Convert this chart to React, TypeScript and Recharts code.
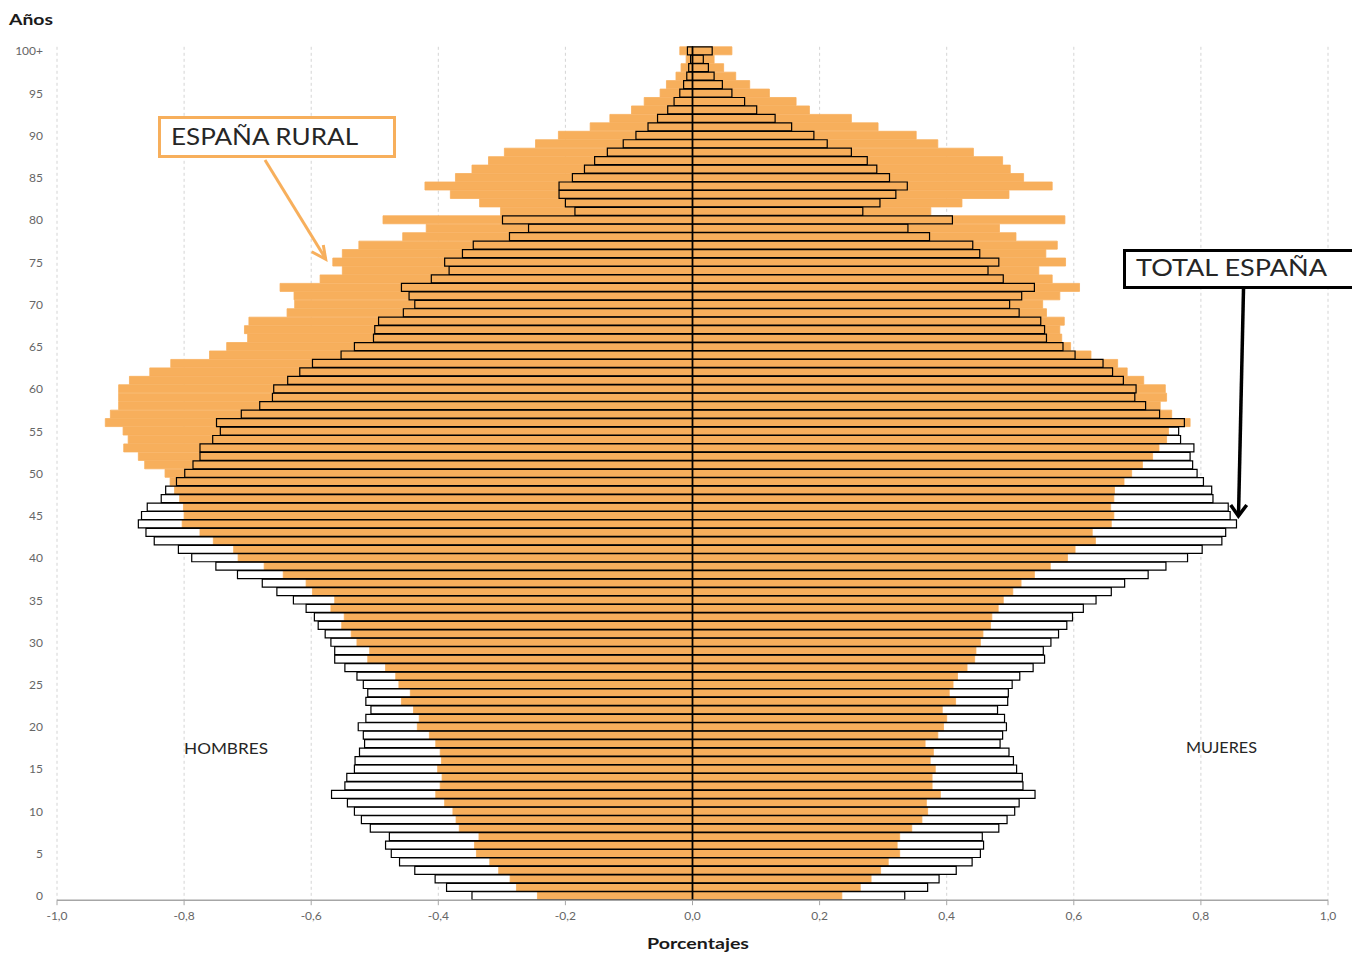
import React from 'react';
import { BarChart, Bar, XAxis, YAxis, CartesianGrid, ReferenceLine } from 'recharts';

// Age categories, 0 .. 100+
const ages = [
  '0','1','2','3','4','5','6','7','8','9',
  '10','11','12','13','14','15','16','17','18','19',
  '20','21','22','23','24','25','26','27','28','29',
  '30','31','32','33','34','35','36','37','38','39',
  '40','41','42','43','44','45','46','47','48','49',
  '50','51','52','53','54','55','56','57','58','59',
  '60','61','62','63','64','65','66','67','68','69',
  '70','71','72','73','74','75','76','77','78','79',
  '80','81','82','83','84','85','86','87','88','89',
  '90','91','92','93','94','95','96','97','98','99','100+',
];

// TOTAL ESPAÑA - hombres (% , negative = left side)
const totalMen = [
  -0.347,-0.387,-0.405,-0.437,-0.461,-0.474,-0.483,-0.477,-0.507,-0.521,
  -0.532,-0.543,-0.568,-0.547,-0.544,-0.532,-0.531,-0.524,-0.516,-0.518,
  -0.526,-0.514,-0.506,-0.514,-0.511,-0.518,-0.528,-0.547,-0.563,-0.563,
  -0.569,-0.578,-0.589,-0.595,-0.608,-0.628,-0.654,-0.677,-0.716,-0.750,
  -0.788,-0.809,-0.847,-0.860,-0.872,-0.867,-0.858,-0.836,-0.829,-0.812,
  -0.799,-0.786,-0.775,-0.775,-0.755,-0.743,-0.749,-0.710,-0.681,-0.661,
  -0.659,-0.637,-0.618,-0.598,-0.553,-0.532,-0.502,-0.500,-0.494,-0.455,
  -0.437,-0.446,-0.458,-0.411,-0.383,-0.390,-0.362,-0.345,-0.288,-0.258,
  -0.299,-0.185,-0.200,-0.210,-0.210,-0.189,-0.170,-0.154,-0.134,-0.109,
  -0.089,-0.070,-0.055,-0.039,-0.029,-0.020,-0.014,-0.009,-0.006,-0.003,-0.008,
];

// ESPAÑA RURAL - hombres
const ruralMen = [
  -0.244,-0.277,-0.287,-0.305,-0.319,-0.340,-0.343,-0.336,-0.367,-0.372,
  -0.377,-0.390,-0.404,-0.397,-0.394,-0.401,-0.395,-0.397,-0.404,-0.414,
  -0.433,-0.430,-0.439,-0.458,-0.444,-0.462,-0.467,-0.483,-0.511,-0.508,
  -0.528,-0.537,-0.552,-0.548,-0.569,-0.563,-0.598,-0.608,-0.644,-0.674,
  -0.715,-0.722,-0.754,-0.775,-0.803,-0.800,-0.801,-0.807,-0.815,-0.822,
  -0.830,-0.862,-0.872,-0.895,-0.888,-0.896,-0.924,-0.916,-0.903,-0.903,
  -0.903,-0.886,-0.854,-0.821,-0.760,-0.733,-0.700,-0.705,-0.698,-0.638,
  -0.626,-0.627,-0.649,-0.586,-0.551,-0.566,-0.551,-0.525,-0.456,-0.419,
  -0.487,-0.302,-0.335,-0.381,-0.421,-0.373,-0.347,-0.321,-0.296,-0.247,
  -0.211,-0.161,-0.130,-0.096,-0.076,-0.051,-0.041,-0.026,-0.018,-0.010,-0.020,
];

// TOTAL ESPAÑA - mujeres
const totalWomen = [
  0.334,0.370,0.388,0.415,0.440,0.453,0.458,0.456,0.482,0.495,
  0.507,0.514,0.539,0.520,0.519,0.510,0.505,0.498,0.484,0.488,
  0.494,0.491,0.480,0.496,0.497,0.503,0.515,0.536,0.554,0.552,
  0.564,0.576,0.589,0.598,0.615,0.635,0.659,0.680,0.717,0.745,
  0.779,0.802,0.833,0.839,0.856,0.846,0.843,0.819,0.817,0.804,
  0.794,0.787,0.783,0.789,0.768,0.765,0.774,0.735,0.713,0.696,
  0.698,0.678,0.661,0.646,0.602,0.583,0.557,0.554,0.548,0.514,
  0.499,0.518,0.538,0.489,0.465,0.482,0.452,0.441,0.373,0.339,
  0.409,0.268,0.295,0.320,0.338,0.310,0.290,0.275,0.250,0.212,
  0.191,0.156,0.130,0.101,0.082,0.062,0.047,0.034,0.025,0.017,0.031,
];

// ESPAÑA RURAL - mujeres
const ruralWomen = [
  0.235,0.264,0.281,0.296,0.308,0.326,0.322,0.326,0.345,0.361,
  0.370,0.368,0.390,0.377,0.377,0.382,0.374,0.379,0.366,0.386,
  0.395,0.400,0.393,0.414,0.404,0.410,0.417,0.432,0.444,0.446,
  0.453,0.457,0.469,0.471,0.481,0.489,0.504,0.517,0.538,0.563,
  0.590,0.602,0.634,0.629,0.659,0.663,0.658,0.663,0.664,0.679,
  0.691,0.708,0.724,0.734,0.746,0.749,0.783,0.754,0.736,0.746,
  0.744,0.710,0.684,0.669,0.627,0.595,0.581,0.578,0.585,0.557,
  0.551,0.578,0.609,0.566,0.545,0.587,0.556,0.574,0.509,0.483,
  0.586,0.375,0.424,0.498,0.566,0.521,0.500,0.488,0.442,0.386,
  0.352,0.292,0.250,0.184,0.163,0.121,0.090,0.068,0.049,0.034,0.062,
];

const xTicks = [-1, -0.8, -0.6, -0.4, -0.2, 0, 0.2, 0.4, 0.6, 0.8, 1];

const ORANGE = '#F7AF5C';
const FONT = 'Lato, "Open Sans", sans-serif';

const data = ages
  .map((age, i) => ({
    age,
    totalM: totalMen[i],
    totalF: totalWomen[i],
    ruralM: ruralMen[i],
    ruralF: ruralWomen[i],
  }))
  .reverse();

const fmt = (v: number) => v.toFixed(1).replace('.', ',');

export default function App() {
  return (
    <div style={{ position: 'absolute', left: 0, top: 0, width: 1352, height: 954, background: '#fff' }}>
      <BarChart
        width={1352}
        height={954}
        data={data}
        layout="vertical"
        stackOffset="sign"
        barCategoryGap={0}
        barGap={0}
        margin={{ top: 46.8, right: 24, bottom: 0, left: 0 }}
      >
        <CartesianGrid yAxisId="a" horizontal={false} vertical stroke="#d4d4d4" strokeDasharray="3 3" />
        <XAxis
          type="number"
          domain={[-1, 1]}
          ticks={xTicks}
          tickFormatter={fmt}
          height={53.8}
          axisLine={{ stroke: '#a6a6a6', strokeWidth: 1.5 }}
          tickLine={{ stroke: '#a6a6a6' }}
          tickSize={5}
          tickMargin={6}
          tick={{ fill: '#666', fontSize: 12, fontFamily: FONT }}
          allowDataOverflow
        />
        <YAxis
          yAxisId="a"
          type="category"
          dataKey="age"
          width={57}
          axisLine={false}
          tickLine={false}
          tickSize={0}
          tickMargin={14}
          interval={4}
          tick={{ fill: '#666', fontSize: 12, fontFamily: FONT }}
        />
        <YAxis yAxisId="b" type="category" dataKey="age" hide />
        <YAxis yAxisId="c" type="category" dataKey="age" hide />

        <Bar yAxisId="a" dataKey="totalM" stackId="w" fill="#fff" barSize={8} isAnimationActive={false} />
        <Bar yAxisId="a" dataKey="totalF" stackId="w" fill="#fff" barSize={8} isAnimationActive={false} />

        <Bar yAxisId="b" dataKey="ruralM" stackId="r" fill={ORANGE} stroke={ORANGE} strokeWidth={0.8} isAnimationActive={false} />
        <Bar yAxisId="b" dataKey="ruralF" stackId="r" fill={ORANGE} stroke={ORANGE} strokeWidth={0.8} isAnimationActive={false} />

        <Bar yAxisId="c" dataKey="totalM" stackId="o" fill="none" stroke="#000" strokeWidth={1.2} barSize={8} isAnimationActive={false} />
        <Bar yAxisId="c" dataKey="totalF" stackId="o" fill="none" stroke="#000" strokeWidth={1.2} barSize={8} isAnimationActive={false} />

        <ReferenceLine yAxisId="a" x={0} stroke="#000" strokeWidth={1.5} />
      </BarChart>

      <svg
        width={1352}
        height={954}
        style={{ position: 'absolute', left: 0, top: 0, pointerEvents: 'none' }}
      >
        <text x={9} y={25} fontFamily={FONT} fontSize={16} fontWeight="bold" fill="#1a1a1a" textLength={44} lengthAdjust="spacingAndGlyphs">Años</text>
        <text x={647} y={949} fontFamily={FONT} fontSize={16} fontWeight="bold" fill="#1a1a1a" textLength={102} lengthAdjust="spacingAndGlyphs">Porcentajes</text>
        <text x={184} y={754} fontFamily={FONT} fontSize={16} fill="#262626" textLength={84} lengthAdjust="spacingAndGlyphs">HOMBRES</text>
        <text x={1186} y={753} fontFamily={FONT} fontSize={16} fill="#262626" textLength={71} lengthAdjust="spacingAndGlyphs">MUJERES</text>

        <rect x={159.5} y={117.5} width={235} height={39} fill="#fff" stroke={ORANGE} strokeWidth={3} />
        <text x={171} y={144.5} fontFamily={FONT} fontSize={23} fill="#262626" textLength={187} lengthAdjust="spacingAndGlyphs">ESPAÑA RURAL</text>
        <line x1={265} y1={160} x2={325.5} y2={258.5} stroke={ORANGE} strokeWidth={3} />
        <polyline points="311.7,251.7 325.7,259.3 323.3,245" fill="none" stroke={ORANGE} strokeWidth={3} />

        <rect x={1124.5} y={250.5} width={240} height={37} fill="#fff" stroke="#000" strokeWidth={3} />
        <text x={1136} y={276} fontFamily={FONT} fontSize={23} fill="#262626" textLength={191} lengthAdjust="spacingAndGlyphs">TOTAL ESPAÑA</text>
        <line x1={1243.5} y1={289} x2={1238.5} y2={516} stroke="#000" strokeWidth={3.5} />
        <polyline points="1230.7,505 1238.4,516 1246.7,505" fill="none" stroke="#000" strokeWidth={3.5} />
      </svg>
    </div>
  );
}
